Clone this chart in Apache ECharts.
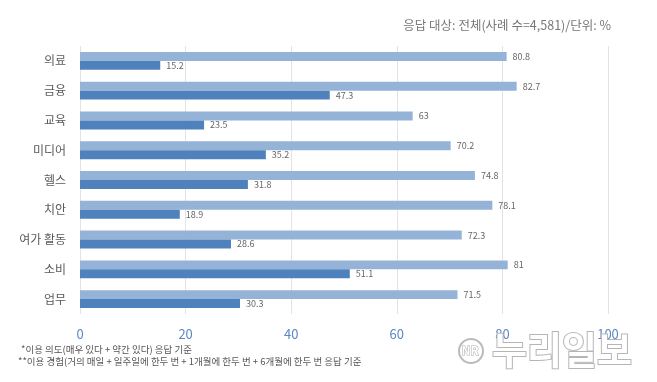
<!DOCTYPE html>
<html><head><meta charset="utf-8">
<script src="https://cdn.jsdelivr.net/npm/echarts@6/dist/echarts.min.js"></script>
<style>html,body{margin:0;padding:0;background:#fff}#c{width:657px;height:382px}</style>
</head><body><div id="c"></div>
<script>
const categories = ['의료','금융','교육','미디어','헬스','치안','여가 활동','소비','업무'];
const intentValues = [80.8,82.7,63,70.2,74.8,78.1,72.3,81,71.5];
const experienceValues = [15.2,47.3,23.5,35.2,31.8,18.9,28.6,51.1,30.3];
const xTicks = [0,20,40,60,80,100];
const subtitle = '응답 대상: 전체(사례 수=4,581)/단위: %';
const notes = ['*이용 의도(매우 있다 + 약간 있다) 응답 기준','**이용 경험(거의 매일 + 일주일에 한두 번 + 1개월에 한두 번 + 6개월에 한두 번 응답 기준'];
const watermark = '누리일보';

const chart = echarts.init(document.getElementById('c'), null, {renderer:'canvas'});
const font = '"Noto Sans CJK KR","Noto Sans",sans-serif';
const labelCommon = {show:true, position:'right', distance:6, color:'#666', fontSize:9, fontFamily:font};
chart.setOption({
  animation:false,
  textStyle:{fontFamily:font},
  grid:{left:80, right:49, top:46, bottom:68, containLabel:false},
  xAxis:{type:'value', min:0, max:100, interval:20,
    axisLine:{show:false}, axisTick:{show:false},
    splitLine:{show:true, lineStyle:{color:'#e3e3e3', width:1}},
    axisLabel:{color:'#5b87c5', fontSize:13, margin:14, fontFamily:font,
      formatter:v=>xTicks.includes(v)?String(v):''}},
  yAxis:{type:'category', data:categories, inverse:true,
    axisLine:{show:false}, axisTick:{show:false},
    axisLabel:{color:'#5a5a5a', fontSize:12, margin:14, fontFamily:font}},
  series:[
    {type:'bar', data:intentValues, barGap:'0%', barCategoryGap:'40%',
      itemStyle:{color:'#95b3d7'}, label:labelCommon},
    {type:'bar', data:experienceValues,
      itemStyle:{color:'#4f81bd'}, label:labelCommon}
  ],
  graphic:[
    {type:'text', right:46, top:19, style:{text:subtitle, fill:'#777', fontSize:12.5, fontFamily:font}},
    {type:'text', left:21, top:345, style:{text:notes[0], fill:'#555', fontSize:9.5, fontFamily:font}},
    {type:'text', left:18, top:357, style:{text:notes[1], fill:'#555', fontSize:9.5, fontFamily:font}},
    {type:'circle', shape:{cx:471, cy:351, r:12}, style:{fill:'#fff', stroke:'#bbb', lineWidth:2}, z:10},
    {type:'text', left:461, top:344, z:11, style:{text:'NR', fill:'#fff', stroke:'#aaa', lineWidth:1, fontSize:12, fontWeight:'bold', fontFamily:font}},
    {type:'text', left:491, top:330, z:11, style:{text:watermark, fill:'#fff', stroke:'#b5b5b5', lineWidth:2, fontSize:38, fontWeight:'bold', fontFamily:font}}
  ]
});
</script></body></html>
